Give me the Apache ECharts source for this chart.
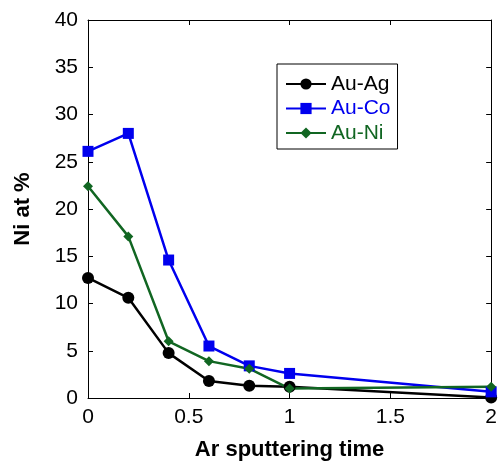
<!DOCTYPE html>
<html>
<head>
<meta charset="utf-8">
<script src="https://cdn.jsdelivr.net/npm/echarts@6/dist/echarts.min.js"></script>
<style>
html,body{margin:0;padding:0;background:#fff;}
#chart{width:500px;height:466px;}
</style>
</head>
<body>
<div id="chart"></div>
<script>
const xValues = [0, 0.2, 0.4, 0.6, 0.8, 1, 2];
const auAg = [12.7, 10.6, 4.75, 1.8, 1.3, 1.2, 0.05];
const auCo = [26.1, 28.0, 14.6, 5.5, 3.4, 2.6, 0.65];
const auNi = [22.4, 17.1, 6.0, 3.9, 3.1, 1.0, 1.2];
const seriesNames = ['Au-Ag', 'Au-Co', 'Au-Ni'];
const seriesColors = ['#000000', '#0000ee', '#116622'];
const xTitle = 'Ar sputtering time';
const yTitle = 'Ni at %';

const pairs = arr => xValues.map((x, i) => [x, arr[i]]);
const font = 'Liberation Sans, Arial, sans-serif';

const chart = echarts.init(document.getElementById('chart'), null, {renderer: 'canvas'});
const axisCommon = {
  type: 'value',
  axisLine: {show: true, onZero: false, lineStyle: {color: '#000', width: 1}},
  axisTick: {show: true, inside: true, length: 5, lineStyle: {color: '#000', width: 1}},
  splitLine: {show: false}
};
chart.setOption({
  animation: false,
  backgroundColor: '#fff',
  grid: {left: 88, right: 6, top: 20, bottom: 64, show: false},
  legend: {
    orient: 'vertical',
    left: 277, top: 64,
    padding: [9.5, 7, 5.5, 8],
    itemWidth: 40, itemHeight: 14, itemGap: 3.5,
    borderColor: '#000', borderWidth: 1,
    textStyle: {fontFamily: font, fontSize: 21},
    data: seriesNames.map((n, i) => ({name: n, textStyle: {color: seriesColors[i]}}))
  },
  xAxis: [
    Object.assign({}, axisCommon, {
      min: 0, max: 2, interval: 0.5, position: 'bottom',
      name: xTitle, nameLocation: 'middle', nameGap: 41,
      nameTextStyle: {fontFamily: font, fontSize: 22, fontWeight: 'bold', color: '#000'},
      axisLabel: {fontFamily: font, fontSize: 21, color: '#000', margin: 9}
    }),
    Object.assign({}, axisCommon, {
      min: 0, max: 2, interval: 0.5, position: 'top',
      axisLabel: {show: false}
    })
  ],
  yAxis: [
    Object.assign({}, axisCommon, {
      min: 0, max: 40, interval: 5, position: 'left',
      name: yTitle, nameLocation: 'middle', nameGap: 54,
      nameTextStyle: {fontFamily: font, fontSize: 22, fontWeight: 'bold', color: '#000'},
      axisLabel: {fontFamily: font, fontSize: 21, color: '#000', margin: 10}
    }),
    Object.assign({}, axisCommon, {
      min: 0, max: 40, interval: 5, position: 'right',
      axisLabel: {show: false}
    })
  ],
  series: [
    {name: seriesNames[0], type: 'line', data: pairs(auAg), symbol: 'circle', symbolSize: 12,
     lineStyle: {color: seriesColors[0], width: 2.5}, itemStyle: {color: seriesColors[0]}},
    {name: seriesNames[1], type: 'line', data: pairs(auCo), symbol: 'rect', symbolSize: 11,
     lineStyle: {color: seriesColors[1], width: 2.5}, itemStyle: {color: seriesColors[1]}},
    {name: seriesNames[2], type: 'line', data: pairs(auNi), symbol: 'diamond', symbolSize: 10,
     lineStyle: {color: seriesColors[2], width: 2.5}, itemStyle: {color: seriesColors[2]}}
  ]
});
</script>
</body>
</html>
